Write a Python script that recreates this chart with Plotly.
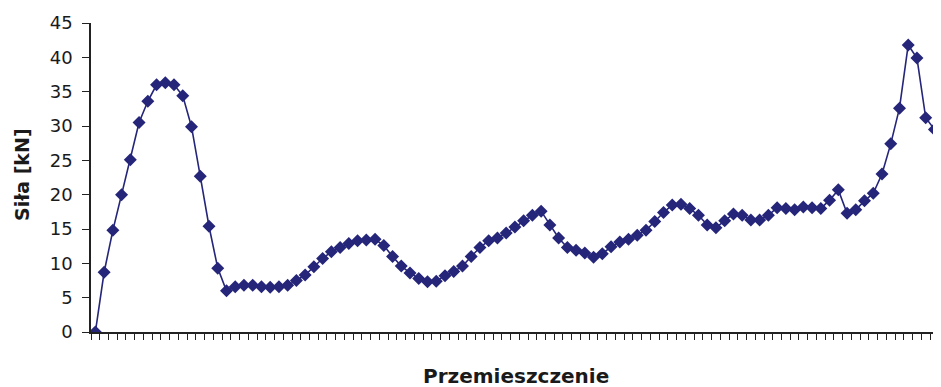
import plotly.graph_objects as go

# Category index of each measurement (x axis has no labels in the original)
przemieszczenie = list(range(1, 99))

# Force values [kN]
sila = [0, 8.7, 14.8, 20.0, 25.1, 30.5, 33.6, 36.0, 36.3, 36.0,
        34.4, 29.9, 22.7, 15.4, 9.3, 6.0, 6.6, 6.8, 6.8, 6.6,
        6.5, 6.6, 6.8, 7.5, 8.3, 9.5, 10.7, 11.7, 12.3, 12.9,
        13.3, 13.4, 13.5, 12.6, 11.0, 9.6, 8.6, 7.8, 7.3, 7.4,
        8.2, 8.8, 9.6, 11.0, 12.3, 13.3, 13.7, 14.4, 15.3, 16.2,
        17.0, 17.6, 15.6, 13.7, 12.3, 11.9, 11.5, 10.9, 11.4, 12.4,
        13.1, 13.5, 14.1, 14.8, 16.1, 17.4, 18.5, 18.6, 18.0, 17.0,
        15.6, 15.2, 16.2, 17.2, 17.0, 16.3, 16.3, 17.0, 18.1, 18.0,
        17.8, 18.2, 18.1, 18.0, 19.2, 20.7, 17.3, 17.8, 19.1, 20.2,
        23.0, 27.4, 32.6, 41.8, 39.9, 31.2, 29.5, 25.1]

y_ticks = [0, 5, 10, 15, 20, 25, 30, 35, 40, 45]

navy = "#25257a"

fig = go.Figure()
fig.add_trace(go.Scatter(
    x=przemieszczenie, y=sila, mode="lines+markers",
    line=dict(color=navy, width=1.6),
    marker=dict(symbol="diamond", size=10, color=navy),
    showlegend=False,
))

# The page body has an 8px margin, so the figure is made 8px smaller
# and the margins are shifted accordingly.
fig.update_layout(
    width=933, height=379,
    margin=dict(l=83, r=0, t=15, b=55),
    paper_bgcolor="white", plot_bgcolor="white",
    font=dict(family="DejaVu Sans", color="#1a1a1a"),
    xaxis=dict(
        range=[0.5, 97.75],
        tickmode="linear", tick0=0.5, dtick=1,
        ticks="outside", ticklen=6, tickwidth=1, tickcolor="#222",
        showticklabels=False, showgrid=False, zeroline=False,
        showline=True, linecolor="#222", linewidth=1.5,
    ),
    yaxis=dict(
        range=[0, 45], tickvals=y_ticks,
        ticks="outside", ticklen=7, tickwidth=1, tickcolor="#222",
        tickfont=dict(size=18, family="DejaVu Sans", color="#1a1a1a"),
        ticklabelstandoff=6,
        showgrid=False, zeroline=False,
        showline=True, linecolor="#222", linewidth=1.5,
    ),
    annotations=[
        dict(text="<b>Siła [kN]</b>", xref="paper", yref="paper",
             x=(22 - 91) / 850, y=(332 - 175) / 309, textangle=-90,
             showarrow=False, xanchor="center", yanchor="middle",
             font=dict(size=19, family="DejaVu Sans", color="#1a1a1a")),
        dict(text="<b>Przemieszczenie</b>", xref="paper", yref="paper",
             x=(516 - 91) / 850, y=(332 - 376) / 309,
             showarrow=False, xanchor="center", yanchor="middle",
             font=dict(size=20, family="DejaVu Sans", color="#1a1a1a")),
    ],
)

fig.write_html("out.html")
